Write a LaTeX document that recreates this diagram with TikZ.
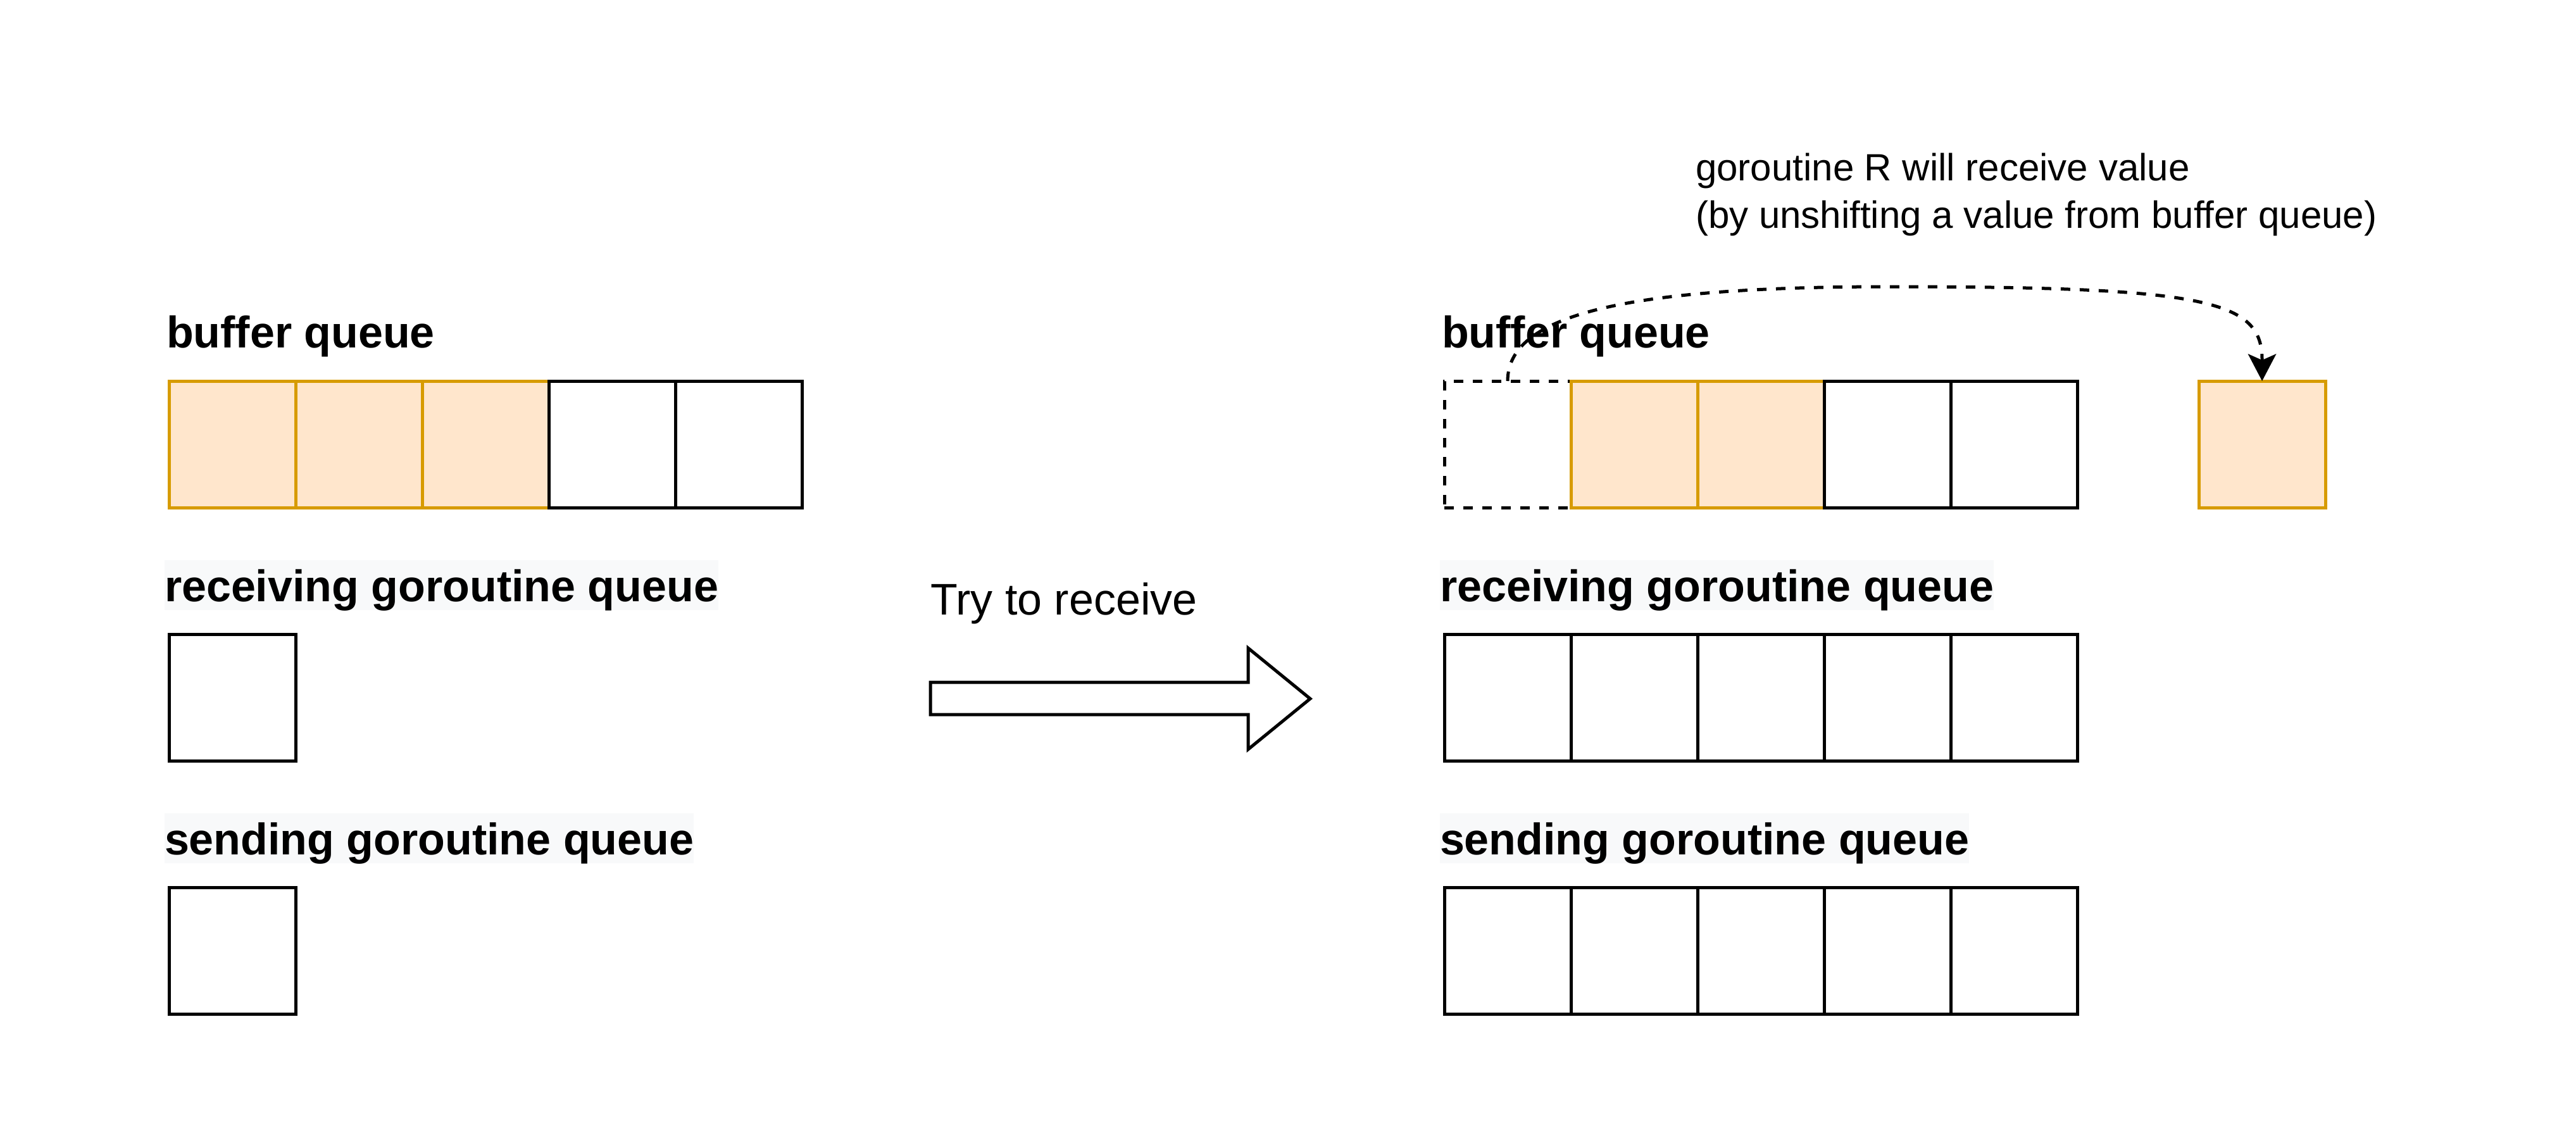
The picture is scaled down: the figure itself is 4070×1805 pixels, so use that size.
\documentclass[tikz,border=0pt]{standalone}
\usepackage{fontspec}
\setmainfont{Liberation Sans}
\usetikzlibrary{arrows.meta}
\definecolor{orfill}{HTML}{FFE6CC}
\definecolor{orline}{HTML}{D79B00}
\definecolor{lblbg}{HTML}{F8F9FA}
\begin{document}
\begin{tikzpicture}[x=1pt,y=-1pt,
  cell/.style={draw=black, line width=5pt, minimum width=200pt, minimum height=200pt, inner sep=0pt, outer sep=0pt, fill=white},
  full/.style={cell, draw=orline, fill=orfill},
  ghost/.style={cell, fill=none, dash pattern=on 15pt off 15pt},
  title/.style={font=\fontsize{70}{84}\selectfont\bfseries, anchor=base west, inner sep=0pt, outer sep=0pt},
  boxlabel/.style={title, fill=lblbg, text height=65pt, text depth=14pt},
  note/.style={font=\fontsize{60}{75}\selectfont, anchor=base west, inner sep=0pt},
  plain/.style={font=\fontsize{70}{84}\selectfont, anchor=base west, inner sep=0pt},
  flow/.style={line width=5pt, dash pattern=on 15pt off 15pt, -{Stealth[length=43pt,width=45pt,inset=10pt,line width=0pt]}},
  bigarrow/.style={draw=black, line width=5pt, fill=white, line join=miter},
]
\fill[white] (0,0) rectangle (4070,1805);
\useasboundingbox (0,0) rectangle (4070,1805);

% ---------- left side ----------
\node[title] (lbt) at (263,549) {buffer queue};
\node[full] (lb1) at (367,702) {};
\node[full] (lb2) at (567,702) {};
\node[full] (lb3) at (767,702) {};
\node[cell] (lb4) at (967,702) {};
\node[cell] (lb5) at (1167,702) {};

\node[boxlabel] (lrt) at (260,950) {receiving goroutine queue};
\node[cell] (lr1) at (367,1102) {};

\node[boxlabel] (lst) at (260,1350) {sending goroutine queue};
\node[cell] (ls1) at (367,1502) {};

% ---------- middle arrow ----------
\node[plain] (try) at (1470,971) {Try to receive};
\draw[bigarrow] (1470,1078) -- (1972,1078) -- (1972,1024) -- (2070,1104)
  -- (1972,1184) -- (1972,1129) -- (1470,1129) -- cycle;

% ---------- right side ----------
\node[note] (n1) at (2679,285) {goroutine R will receive value};
\node[note] (n2) at (2679,360) {(by unshifting a value from buffer queue)};

\node[title] (rbt) at (2278,549) {buffer queue};
\node[ghost] (rb0) at (2382,702) {};
\node[full] (rb1) at (2582,702) {};
\node[full] (rb2) at (2782,702) {};
\node[cell] (rb3) at (2982,702) {};
\node[cell] (rb4) at (3182,702) {};
\node[full] (rv) at (3574,702) {};

\node[boxlabel] (rrt) at (2275,950) {receiving goroutine queue};
\node[cell] (rr1) at (2382,1102) {};
\node[cell] (rr2) at (2582,1102) {};
\node[cell] (rr3) at (2782,1102) {};
\node[cell] (rr4) at (2982,1102) {};
\node[cell] (rr5) at (3182,1102) {};

\node[boxlabel] (rst) at (2275,1350) {sending goroutine queue};
\node[cell] (rs1) at (2382,1502) {};
\node[cell] (rs2) at (2582,1502) {};
\node[cell] (rs3) at (2782,1502) {};
\node[cell] (rs4) at (2982,1502) {};
\node[cell] (rs5) at (3182,1502) {};

% ---------- dashed connector ----------
\coordinate (pk) at (2985,453);
\draw[flow] (rb0.north) .. controls +(0,-104) and +(-420,0) .. (pk)
  .. controls +(505,0) and +(0,-127) .. (rv.north);
\end{tikzpicture}
\end{document}
